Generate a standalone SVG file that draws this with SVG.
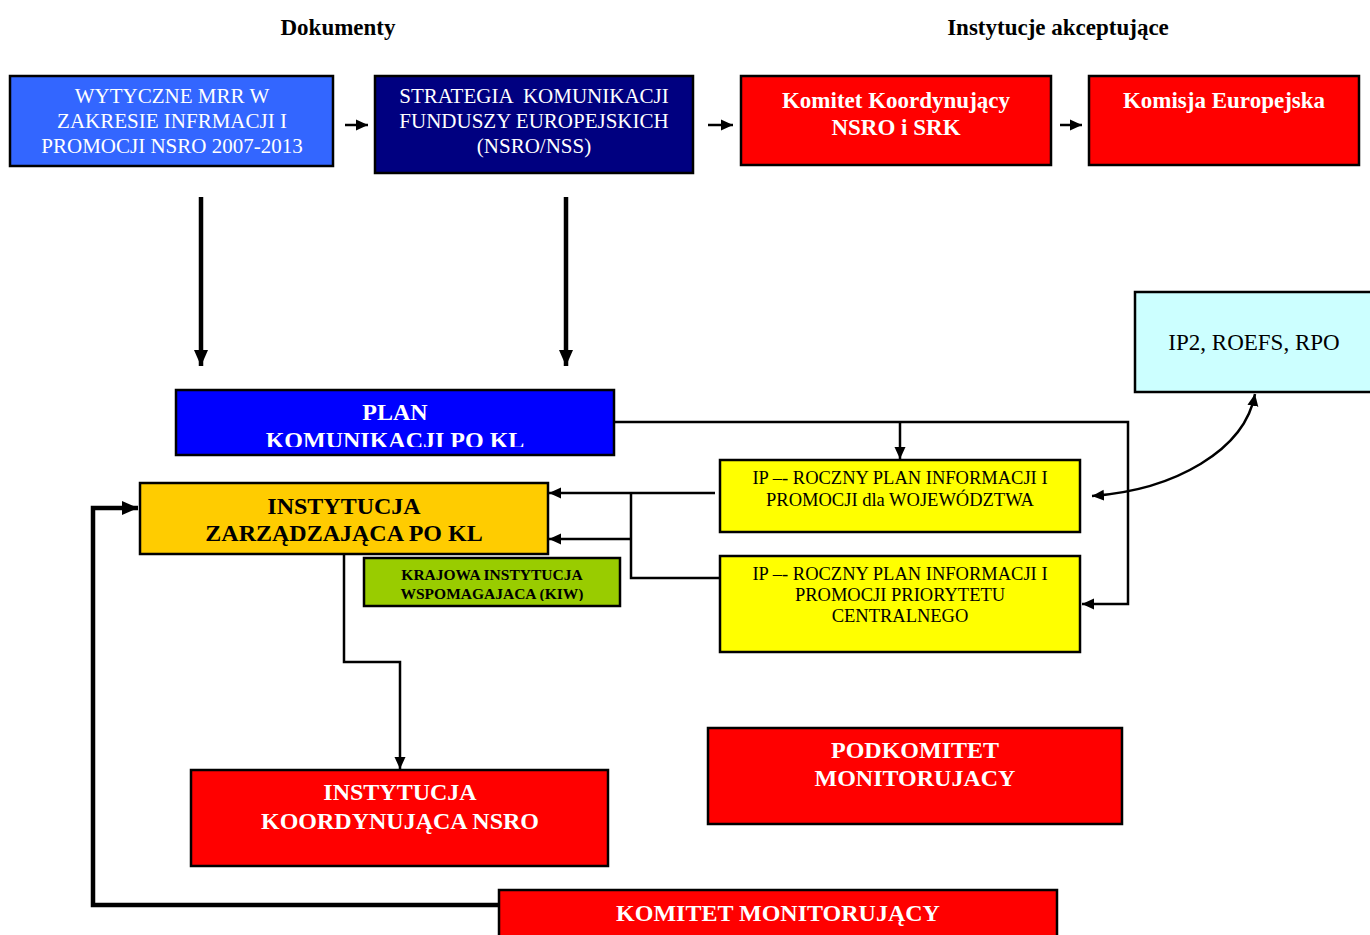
<svg xmlns="http://www.w3.org/2000/svg" width="1370" height="935" viewBox="0 0 1370 935">
<style>
.box{stroke:#000;stroke-width:2.5}
.t{font-family:"Liberation Serif","Times New Roman",serif;text-anchor:middle}
.w{fill:#fff}
.k{fill:#000}
.b{font-weight:bold}
.ln{fill:none;stroke:#000;stroke-width:2.5}
.thick{fill:none;stroke:#000;stroke-width:4.5}
</style>
<defs>
<marker id="ah" markerUnits="userSpaceOnUse" markerWidth="14" markerHeight="14" refX="12" refY="7" orient="auto"><path d="M0,1.5 L12,7 L0,12.5 Z" fill="#000"/></marker>
<marker id="ahs" markerUnits="userSpaceOnUse" markerWidth="14" markerHeight="14" refX="12" refY="7" orient="auto-start-reverse"><path d="M0,1.5 L12,7 L0,12.5 Z" fill="#000"/></marker>
<marker id="ahb" markerUnits="userSpaceOnUse" markerWidth="18" markerHeight="18" refX="16" refY="9" orient="auto"><path d="M0,2 L16,9 L0,16 Z" fill="#000"/></marker>
<clipPath id="cPlan"><rect x="176" y="390" width="438" height="57"/></clipPath>
<clipPath id="cKiw"><rect x="364" y="558" width="256" height="43"/></clipPath>
</defs>

<g id="titles">
<text class="t k b" x="338" y="35" font-size="23">Dokumenty</text>
<text class="t k b" x="1058" y="35" font-size="23">Instytucje akceptujące</text>
</g>

<g id="connectors">
<line class="ln" x1="345" y1="125" x2="368" y2="125" marker-end="url(#ah)"/>
<line class="ln" x1="708" y1="125" x2="733" y2="125" marker-end="url(#ah)"/>
<line class="ln" x1="1060" y1="125" x2="1082" y2="125" marker-end="url(#ah)"/>
<line class="thick" x1="201" y1="197" x2="201" y2="366" marker-end="url(#ahb)"/>
<line class="thick" x1="566" y1="197" x2="566" y2="366" marker-end="url(#ahb)"/>
<polyline class="ln" points="614,422 1128,422 1128,604 1082,604" marker-end="url(#ah)"/>
<line class="ln" x1="900" y1="422" x2="900" y2="459" marker-end="url(#ah)"/>
<line class="ln" x1="715" y1="493" x2="549" y2="493" marker-end="url(#ah)"/>
<polyline class="ln" points="720,578 631,578 631,493"/>
<line class="ln" x1="631" y1="539" x2="549" y2="539" marker-end="url(#ah)"/>
<polyline class="ln" points="344,554 344,662 400,662 400,769" marker-end="url(#ah)"/>
<path class="ln" d="M1255,394 C1245,450 1175,490 1092,496" marker-start="url(#ahs)" marker-end="url(#ah)"/>
<polyline class="thick" points="499,905 93,905 93,508 138,508" marker-end="url(#ahb)"/>
</g>

<g id="wytyczne">
<rect class="box" x="10" y="76" width="323" height="90" fill="#3366FF"/>
<text class="t w" x="172" y="103" font-size="21">WYTYCZNE MRR W</text>
<text class="t w" x="172" y="128" font-size="21">ZAKRESIE INFRMACJI I</text>
<text class="t w" x="172" y="153" font-size="21">PROMOCJI NSRO 2007-2013</text>
</g>

<g id="strategia">
<rect class="box" x="375" y="76" width="318" height="97" fill="#000080"/>
<text class="t w" x="534" y="103" font-size="21" xml:space="preserve">STRATEGIA  KOMUNIKACJI</text>
<text class="t w" x="534" y="128" font-size="21">FUNDUSZY EUROPEJSKICH</text>
<text class="t w" x="534" y="153" font-size="21">(NSRO/NSS)</text>
</g>

<g id="komitet-koord">
<rect class="box" x="741" y="76" width="310" height="89" fill="#FF0000"/>
<text class="t w b" x="896" y="108" font-size="23">Komitet Koordynujący</text>
<text class="t w b" x="896" y="135" font-size="23">NSRO i SRK</text>
</g>

<g id="komisja">
<rect class="box" x="1089" y="76" width="270" height="89" fill="#FF0000"/>
<text class="t w b" x="1224" y="108" font-size="23">Komisja Europejska</text>
</g>

<g id="ip2roefs">
<rect class="box" x="1135" y="292" width="240" height="100" fill="#CCFFFF"/>
<text class="t k" x="1254" y="350" font-size="23">IP2, ROEFS, RPO</text>
</g>

<g id="plan">
<rect class="box" x="176" y="390" width="438" height="65" fill="#0000FF"/>
<g clip-path="url(#cPlan)">
<text class="t w b" x="395" y="420" font-size="24">PLAN</text>
<text class="t w b" x="395" y="448" font-size="24">KOMUNIKACJI PO KL</text>
</g>
</g>

<g id="ip-woj">
<rect class="box" x="720" y="460" width="360" height="72" fill="#FFFF00"/>
<text class="t k" x="900" y="484" font-size="18.5">IP –- ROCZNY PLAN INFORMACJI I</text>
<text class="t k" x="900" y="506" font-size="18.5">PROMOCJI dla WOJEWÓDZTWA</text>
</g>

<g id="ip-central">
<rect class="box" x="720" y="556" width="360" height="96" fill="#FFFF00"/>
<text class="t k" x="900" y="580" font-size="18.5">IP –- ROCZNY PLAN INFORMACJI I</text>
<text class="t k" x="900" y="601" font-size="18.5">PROMOCJI PRIORYTETU</text>
<text class="t k" x="900" y="622" font-size="18.5">CENTRALNEGO</text>
</g>

<g id="iz">
<rect class="box" x="140" y="483" width="408" height="71" fill="#FFCC00"/>
<text class="t k b" x="344" y="514" font-size="24">INSTYTUCJA</text>
<text class="t k b" x="344" y="541" font-size="24">ZARZĄDZAJĄCA PO KL</text>
</g>

<g id="kiw">
<rect class="box" x="364" y="558" width="256" height="48" fill="#99CC00"/>
<g clip-path="url(#cKiw)">
<text class="t k b" x="492" y="580" font-size="15.5">KRAJOWA INSTYTUCJA</text>
<text class="t k b" x="492" y="599" font-size="15.5">WSPOMAGAJACA (KIW)</text>
</g>
</g>

<g id="ikn">
<rect class="box" x="191" y="770" width="417" height="96" fill="#FF0000"/>
<text class="t w b" x="400" y="800" font-size="24">INSTYTUCJA</text>
<text class="t w b" x="400" y="829" font-size="24">KOORDYNUJĄCA NSRO</text>
</g>

<g id="podkomitet">
<rect class="box" x="708" y="728" width="414" height="96" fill="#FF0000"/>
<text class="t w b" x="915" y="758" font-size="24">PODKOMITET</text>
<text class="t w b" x="915" y="786" font-size="24">MONITORUJACY</text>
</g>

<g id="komitet-mon">
<rect class="box" x="499" y="890" width="558" height="60" fill="#FF0000"/>
<text class="t w b" x="778" y="921" font-size="24">KOMITET MONITORUJĄCY</text>
</g>
</svg>
